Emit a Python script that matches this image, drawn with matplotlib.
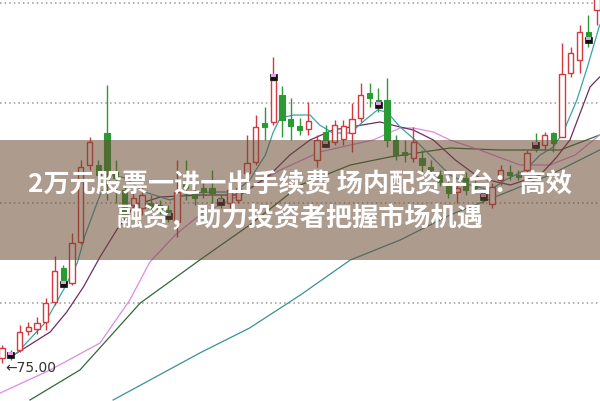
import matplotlib
matplotlib.use("Agg")
import matplotlib.pyplot as plt
from matplotlib.patches import Rectangle

# candle data (index = trading day)
opens = [75.25, 75.55, 75.65, 76.60, 76.70, 77.05, 78.05, 79.75, 79.00, 81.05,
         84.90, 84.90, 86.50, 84.55, 83.65, 82.90, 82.75, 83.00, 82.90, 82.65,
         82.05, 84.00, 83.50, 83.75, 83.75, 83.25, 83.00, 83.15, 84.50, 85.05,
         87.00, 87.05, 88.40, 87.20, 86.85, 86.70, 85.15, 86.55, 86.05, 86.20,
         86.50, 87.25, 88.50, 88.15, 88.15, 86.15, 85.55, 85.25, 85.25, 84.80,
         84.40, 84.00, 83.55, 84.25, 83.90, 83.50, 82.95, 84.15, 84.55, 84.40,
         84.65, 86.05, 85.90, 86.50, 86.30, 89.50, 90.15, 91.55, 92.65]
closes = [75.75, 75.30, 76.55, 76.80, 77.00, 78.00, 79.60, 79.15, 81.00, 84.80,
          86.05, 84.40, 84.65, 84.25, 82.30, 83.25, 83.40, 82.75, 82.65, 82.50,
          83.55, 83.75, 83.25, 83.55, 83.50, 83.15, 83.65, 83.75, 85.00, 86.80,
          86.80, 89.15, 87.15, 86.85, 86.65, 87.10, 86.15, 86.15, 86.90, 86.85,
          87.20, 88.40, 88.25, 88.00, 86.15, 85.40, 85.40, 86.05, 84.90, 84.65,
          84.05, 83.50, 83.75, 83.65, 83.75, 83.40, 83.80, 84.65, 84.40, 84.30,
          85.50, 85.95, 86.40, 86.00, 89.45, 90.50, 91.55, 91.30, 93.65]
highs = [75.90, 75.65, 76.90, 77.05, 77.30, 78.25, 80.35, 79.90, 81.50, 85.15,
         86.30, 85.15, 88.90, 85.15, 83.90, 83.55, 83.90, 83.40, 83.15, 82.90,
         85.15, 85.15, 83.90, 84.15, 84.65, 83.40, 83.85, 84.15, 86.40, 87.40,
         87.80, 90.30, 88.85, 88.25, 87.25, 88.05, 86.40, 86.90, 87.15, 87.15,
         88.00, 89.00, 89.00, 88.75, 89.25, 86.40, 86.15, 86.80, 85.65, 85.15,
         84.65, 84.25, 83.90, 84.55, 84.15, 83.65, 84.00, 84.90, 84.90, 84.65,
         85.65, 86.50, 86.55, 86.55, 91.00, 90.80, 91.90, 92.40, 94.00]
lows = [75.00, 75.15, 75.55, 76.40, 76.45, 76.65, 77.90, 78.80, 78.90, 80.95,
        84.65, 83.90, 83.15, 83.00, 82.05, 82.65, 82.40, 82.55, 82.45, 82.05,
        81.30, 83.15, 82.90, 83.25, 82.80, 82.75, 82.75, 83.00, 84.15, 84.90,
        86.15, 86.90, 86.30, 86.15, 86.40, 86.40, 84.80, 85.80, 85.90, 85.90,
        85.55, 87.05, 87.80, 87.55, 85.80, 85.15, 85.05, 85.05, 84.55, 84.40,
        83.85, 83.25, 83.00, 83.40, 83.55, 83.00, 82.75, 83.90, 84.15, 84.15,
        84.50, 85.55, 85.65, 85.55, 86.30, 89.30, 89.50, 90.80, 91.90]

# signal markers
signal_idx = [1, 7, 19, 25, 31, 37, 43, 55, 61, 67]
signal_price = [75.40, 78.95, 82.35, 83.05, 89.30, 85.95, 87.90, 83.30, 85.90, 91.15]

# moving average lines
ma5_x = [0.9, 1.7, 4.9, 7.2, 8.6, 9.5, 11.2, 12.6, 14.1, 16.3, 19.2, 21.5, 24.3, 26.6,
         28.3, 30.1, 31.0, 31.8, 33.3, 35.2, 36.3, 37.8, 39.8, 41.5, 42.9, 44.0, 45.5,
         47.2, 48.9, 51.2, 53.5, 55.8, 57.5, 59.8, 61.5, 63.0, 64.1, 65.7, 66.9, 68.3]
ma5_y = [75.35, 75.50, 77.00, 78.80, 80.00, 81.40, 83.40, 84.40, 84.25, 83.55, 83.15,
         83.50, 83.55, 83.55, 84.15, 85.40, 86.55, 87.25, 87.40, 87.40, 86.90, 86.50,
         86.50, 87.15, 87.65, 87.55, 86.80, 86.15, 85.40, 84.40, 83.90, 83.65, 84.15,
         84.65, 85.40, 85.80, 86.50, 88.15, 89.80, 91.90]
ma10_x = [0.9, 1.7, 5.5, 7.4, 9.3, 11.2, 13.1, 15.2, 18.1, 22.6, 27.2, 30.6, 32.9, 35.2,
          37.8, 39.8, 43.2, 45.5, 47.0, 49.3, 51.8, 54.6, 58.1, 61.5, 63.4, 64.9, 67.2, 68.3]
ma10_y = [75.30, 75.50, 76.55, 77.55, 78.80, 80.30, 81.65, 82.90, 83.30, 83.40, 83.40,
          84.40, 85.40, 86.15, 86.65, 86.80, 87.05, 86.80, 86.65, 86.15, 85.15, 84.25,
          83.90, 84.40, 85.30, 86.15, 88.80, 89.30]
ma20_x = [-0.2, 5.5, 11.2, 14.6, 16.9, 19.8, 22.6, 27.2, 31.8, 36.3, 39.8, 42.4, 45.5,
          47.0, 49.3, 51.2, 54.6, 59.2, 62.6, 65.5, 68.3]
ma20_y = [73.50, 74.65, 76.00, 78.15, 80.05, 81.40, 82.40, 83.40, 84.65, 85.55, 85.90,
          86.15, 86.75, 86.75, 86.55, 86.15, 85.65, 84.90, 84.90, 85.40, 86.40]
ma30_x = [3.2, 8.9, 15.8, 22.6, 28.3, 34.1, 39.8, 44.3, 51.2, 56.9, 63.8, 68.3]
ma30_y = [73.15, 74.65, 78.00, 80.15, 81.90, 83.90, 84.90, 85.30, 85.75, 85.65, 85.65, 86.40]
ma60_x = [12.7, 22.6, 28.3, 34.1, 39.8, 45.5, 51.2, 56.9, 62.6, 68.3]
ma60_y = [73.15, 75.50, 76.75, 78.40, 80.15, 81.15, 82.40, 83.40, 84.40, 85.65]

grid_levels = [78, 83, 88, 93]
low_label = "75.00"
title_lines = "2万元股票一进一出手续费 场内配资平台：高效\n融资，助力投资者把握市场机遇"

RED = "#d23a3f"
GREEN = "#2b9a35"

fig = plt.figure(figsize=(6, 4.01), dpi=100)
ax = fig.add_axes([0, 0, 1, 1])
ax.set_xlim(-0.23, 68.34)
ax.set_ylim(73.1, 93.15)
ax.axis("off")

for g in grid_levels:
    ax.axhline(g, color="#9a9a9a", lw=1.1, linestyle=(0, (1, 2)), zorder=1)

# moving averages
ax.plot(ma60_x, ma60_y, color="#3d8f98", lw=0.9, zorder=2)
ax.plot(ma30_x, ma30_y, color="#2f6a35", lw=0.9, zorder=2)
ax.plot(ma20_x, ma20_y, color="#e08ae0", lw=0.9, zorder=2)
ax.plot(ma10_x, ma10_y, color="#6e2d62", lw=0.9, zorder=2)
ax.plot(ma5_x, ma5_y, color="#3aa3a8", lw=0.9, zorder=2)

w = 0.62
for i, (o, c, h, l) in enumerate(zip(opens, closes, highs, lows)):
    top, bot = max(o, c), min(o, c)
    if bot == top:
        top += 0.05
    if c >= o:
        ax.vlines(i, top, h, color=RED, lw=1, zorder=3)
        ax.vlines(i, l, bot, color=RED, lw=1, zorder=3)
        ax.add_patch(Rectangle((i - w / 2, bot), w, top - bot, facecolor="white",
                               edgecolor=RED, lw=1, zorder=4))
    else:
        ax.vlines(i, l, h, color=GREEN, lw=1, zorder=3)
        ax.add_patch(Rectangle((i - w / 2, bot), w, top - bot, facecolor=GREEN,
                               edgecolor=GREEN, lw=0.8, zorder=4))

for i, p in zip(signal_idx, signal_price):
    ax.add_patch(Rectangle((i - 0.38, p - 0.17), 0.76, 0.34, facecolor="#111111",
                           edgecolor="#111111", lw=0.5, zorder=5))
    ax.add_patch(Rectangle((i - 0.3, p - 0.02), 0.6, 0.15, facecolor="#e6a0e6",
                           edgecolor="none", zorder=6))

ax.text(0.34, 74.75, "\u2190" + low_label, fontsize=10, color="#333333",
        ha="left", va="center", family=["DejaVu Sans"], zorder=5)

# overlay banner
ax.add_patch(Rectangle((0, 1 - 260 / 401), 1, 120 / 401, transform=ax.transAxes,
                       facecolor="#6b4a32", alpha=0.55, edgecolor="none", zorder=8))
ax.text(0.5, 1 - 201.5 / 401, title_lines, transform=ax.transAxes, ha="center",
        va="center", fontsize=18.8, color="white", fontweight="bold",
        linespacing=1.32, family=["Noto Sans CJK SC", "DejaVu Sans"], zorder=9)

fig.savefig("out.png", dpi=100)
